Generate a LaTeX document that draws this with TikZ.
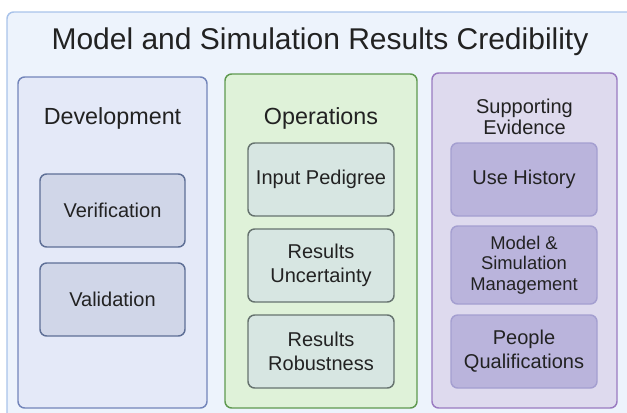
\documentclass[tikz,border=0pt]{standalone}
\usepackage{fontspec}
\setmainfont{Liberation Sans}
\definecolor{outerfill}{HTML}{EDF3FC}
\definecolor{outerdraw}{HTML}{A9C3EA}
\definecolor{devfill}{HTML}{E4E9F8}
\definecolor{devdraw}{HTML}{7385BA}
\definecolor{devinfill}{HTML}{D0D6E8}
\definecolor{devindraw}{HTML}{5E6F96}
\definecolor{opsfill}{HTML}{DFF2D9}
\definecolor{opsdraw}{HTML}{5F9950}
\definecolor{opsinfill}{HTML}{D7E6E2}
\definecolor{opsindraw}{HTML}{66736F}
\definecolor{supfill}{HTML}{DEDAEE}
\definecolor{supdraw}{HTML}{9A7BC1}
\definecolor{supinfill}{HTML}{BAB4DC}
\definecolor{supindraw}{HTML}{A49FD0}
\definecolor{txt}{HTML}{222222}
\begin{document}
\begin{tikzpicture}[x=0.75pt,y=-0.75pt,
  box/.style={rounded corners=5pt, line width=1.1pt, inner sep=0pt},
  txtlab/.style={text=txt, align=center, inner sep=0pt},
  devbox/.style={box, draw=devindraw, fill=devinfill, minimum width=108.75pt, minimum height=54.75pt, font=\fontsize{15}{18}\selectfont, text=txt, align=center},
  opsbox/.style={box, draw=opsindraw, fill=opsinfill, minimum width=109.5pt, minimum height=54.75pt, font=\fontsize{15}{18}\selectfont, text=txt, align=center},
  supbox/.style={box, draw=supindraw, fill=supinfill, minimum width=109.5pt, minimum height=54.75pt, font=\fontsize{15}{18}\selectfont, text=txt, align=center}
]
\useasboundingbox (0,0) rectangle (627,412);
\node[box, draw=outerdraw, fill=outerfill, minimum width=474.75pt, minimum height=309.75pt] (outer) at (323.5,218.5) {};
\node[txtlab, font=\fontsize{22.5}{27}\selectfont] (title) at (320,42) {Model and Simulation Results Credibility};

\node[box, draw=devdraw, fill=devfill, minimum width=141.75pt, minimum height=248.25pt] (dev) at (112.5,242.5) {};
\node[box, draw=opsdraw, fill=opsfill, minimum width=144pt, minimum height=250.5pt] (ops) at (321,241) {};
\node[box, draw=supdraw, fill=supfill, minimum width=138.75pt, minimum height=251.25pt] (sup) at (524.5,240.5) {};

\node[txtlab, font=\fontsize{17.5}{21}\selectfont] (devt) at (112.5,118) {Development};
\node[txtlab, font=\fontsize{17.5}{21}\selectfont] (opst) at (321,118) {Operations};
\node[txtlab, font=\fontsize{15}{16}\selectfont] (supt) at (524.5,117) {Supporting\\Evidence};

\node[devbox] (ver) at (112.5,210.5) {Verification};
\node[devbox] (val) at (112.5,299.5) {Validation};

\node[opsbox] (inp) at (321,179.5) {Input Pedigree};
\node[opsbox] (unc) at (321,265.5) {Results\\Uncertainty};
\node[opsbox] (rob) at (321,351.5) {Results\\Robustness};

\node[supbox] (use) at (524,179.5) {Use History};
\node[supbox, minimum height=58.5pt, font=\fontsize{13.8}{15.5}\selectfont] (mgmt) at (524,265) {Model \&\\Simulation\\Management};
\node[supbox] (ppl) at (524,351.5) {People\\Qualifications};
\end{tikzpicture}
\end{document}
